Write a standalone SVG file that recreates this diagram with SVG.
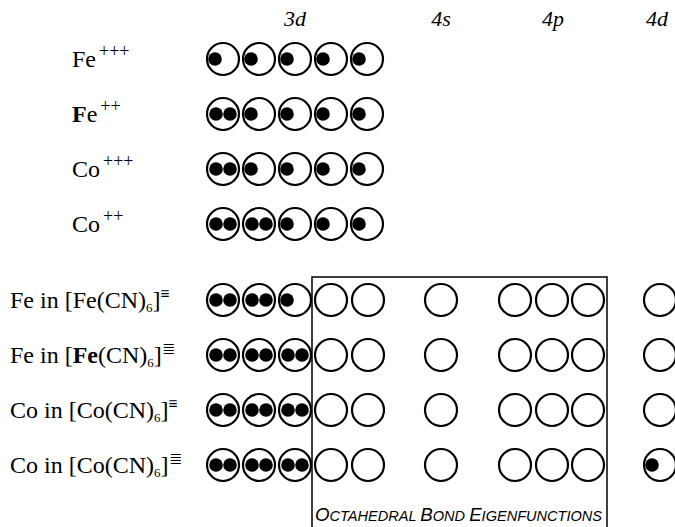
<svg xmlns="http://www.w3.org/2000/svg" xmlns:xlink="http://www.w3.org/1999/xlink" width="675" height="527" viewBox="0 0 675 527">
<style>
.orb{fill:#fff;stroke:#000;stroke-width:2.2}
.e{fill:#000}
.lbl{font-family:"Liberation Serif","Times New Roman",serif;font-size:24px;fill:#000}
.hdr{font-family:"Liberation Serif","Times New Roman",serif;font-size:22px;font-style:italic;fill:#000;text-anchor:middle}
.box{fill:none;stroke:#000;stroke-width:1.5}
.cap{font-family:"Liberation Sans",Arial,sans-serif;font-style:italic;fill:#000}
</style>
<defs>
<g id="o0"><circle class="orb" r="16"/></g>
<g id="o1"><circle class="orb" r="16"/><circle class="e" cx="-8" r="6.8"/></g>
<g id="o2"><circle class="orb" r="16"/><circle class="e" cx="-7" r="6.8"/><circle class="e" cx="7" r="6.8"/></g>
</defs>
<rect width="675" height="527" fill="#fff"/>
<g id="headers">
<text class="hdr" x="295" y="26">3d</text>
<text class="hdr" x="441" y="26">4s</text>
<text class="hdr" x="553" y="26">4p</text>
<text class="hdr" x="657" y="26">4d</text>
</g>
<g id="box">
<path class="box" d="M312,530 V277 H607 V530"/>
<text class="cap" x="315" y="521" textLength="287" lengthAdjust="spacingAndGlyphs"><tspan font-size="18">O</tspan><tspan font-size="14">CTAHEDRAL </tspan><tspan font-size="18">B</tspan><tspan font-size="14">OND </tspan><tspan font-size="18">E</tspan><tspan font-size="14">IGENFUNCTIONS</tspan></text>
</g>
<g id="fe3">
<text class="lbl" x="72" y="67">Fe<tspan dx="3" dy="-10" font-size="18">+++</tspan></text>
<use xlink:href="#o1" x="223" y="59"/><use xlink:href="#o1" x="259" y="59"/><use xlink:href="#o1" x="295" y="59"/><use xlink:href="#o1" x="331" y="59"/><use xlink:href="#o1" x="367" y="59"/>
</g>
<g id="fe2">
<text class="lbl" x="72" y="122"><tspan font-weight="bold">F</tspan>e<tspan dx="3" dy="-10" font-size="18">++</tspan></text>
<use xlink:href="#o2" x="223" y="114"/><use xlink:href="#o1" x="259" y="114"/><use xlink:href="#o1" x="295" y="114"/><use xlink:href="#o1" x="331" y="114"/><use xlink:href="#o1" x="367" y="114"/>
</g>
<g id="co3">
<text class="lbl" x="72" y="177">Co<tspan dx="3" dy="-10" font-size="18">+++</tspan></text>
<use xlink:href="#o2" x="223" y="169"/><use xlink:href="#o1" x="259" y="169"/><use xlink:href="#o1" x="295" y="169"/><use xlink:href="#o1" x="331" y="169"/><use xlink:href="#o1" x="367" y="169"/>
</g>
<g id="co2">
<text class="lbl" x="72" y="232">Co<tspan dx="3" dy="-10" font-size="18">++</tspan></text>
<use xlink:href="#o2" x="223" y="224"/><use xlink:href="#o2" x="259" y="224"/><use xlink:href="#o1" x="295" y="224"/><use xlink:href="#o1" x="331" y="224"/><use xlink:href="#o1" x="367" y="224"/>
</g>
<g id="fecn3">
<text class="lbl" x="10" y="308">Fe in [Fe(CN)<tspan dy="4" font-size="13">6</tspan><tspan dy="-4">]</tspan><tspan dy="-9" font-size="16" font-weight="bold">≡</tspan></text>
<use xlink:href="#o2" x="223" y="300"/><use xlink:href="#o2" x="259" y="300"/><use xlink:href="#o1" x="295" y="300"/>
<use xlink:href="#o0" x="331" y="300"/><use xlink:href="#o0" x="368" y="300"/><use xlink:href="#o0" x="441" y="300"/><use xlink:href="#o0" x="515" y="300"/><use xlink:href="#o0" x="552" y="300"/><use xlink:href="#o0" x="588" y="300"/><use xlink:href="#o0" x="660" y="300"/>
</g>
<g id="fecn4">
<text class="lbl" x="10" y="363">Fe in [<tspan font-weight="bold">Fe</tspan>(CN)<tspan dy="4" font-size="13">6</tspan><tspan dy="-4">]</tspan><tspan dy="-9" font-size="16">≣</tspan></text>
<use xlink:href="#o2" x="223" y="355"/><use xlink:href="#o2" x="259" y="355"/><use xlink:href="#o2" x="295" y="355"/>
<use xlink:href="#o0" x="331" y="355"/><use xlink:href="#o0" x="368" y="355"/><use xlink:href="#o0" x="441" y="355"/><use xlink:href="#o0" x="515" y="355"/><use xlink:href="#o0" x="552" y="355"/><use xlink:href="#o0" x="588" y="355"/><use xlink:href="#o0" x="660" y="355"/>
</g>
<g id="cocn3">
<text class="lbl" x="10" y="418">Co in [Co(CN)<tspan dy="4" font-size="13">6</tspan><tspan dy="-4">]</tspan><tspan dy="-9" font-size="16" font-weight="bold">≡</tspan></text>
<use xlink:href="#o2" x="223" y="410"/><use xlink:href="#o2" x="259" y="410"/><use xlink:href="#o2" x="295" y="410"/>
<use xlink:href="#o0" x="331" y="410"/><use xlink:href="#o0" x="368" y="410"/><use xlink:href="#o0" x="441" y="410"/><use xlink:href="#o0" x="515" y="410"/><use xlink:href="#o0" x="552" y="410"/><use xlink:href="#o0" x="588" y="410"/><use xlink:href="#o0" x="660" y="410"/>
</g>
<g id="cocn4">
<text class="lbl" x="10" y="473">Co in [Co(CN)<tspan dy="4" font-size="13">6</tspan><tspan dy="-4">]</tspan><tspan dy="-9" font-size="16">≣</tspan></text>
<use xlink:href="#o2" x="223" y="465"/><use xlink:href="#o2" x="259" y="465"/><use xlink:href="#o2" x="295" y="465"/>
<use xlink:href="#o0" x="331" y="465"/><use xlink:href="#o0" x="368" y="465"/><use xlink:href="#o0" x="441" y="465"/><use xlink:href="#o0" x="515" y="465"/><use xlink:href="#o0" x="552" y="465"/><use xlink:href="#o0" x="588" y="465"/><use xlink:href="#o1" x="660" y="465"/>
</g>
</svg>
